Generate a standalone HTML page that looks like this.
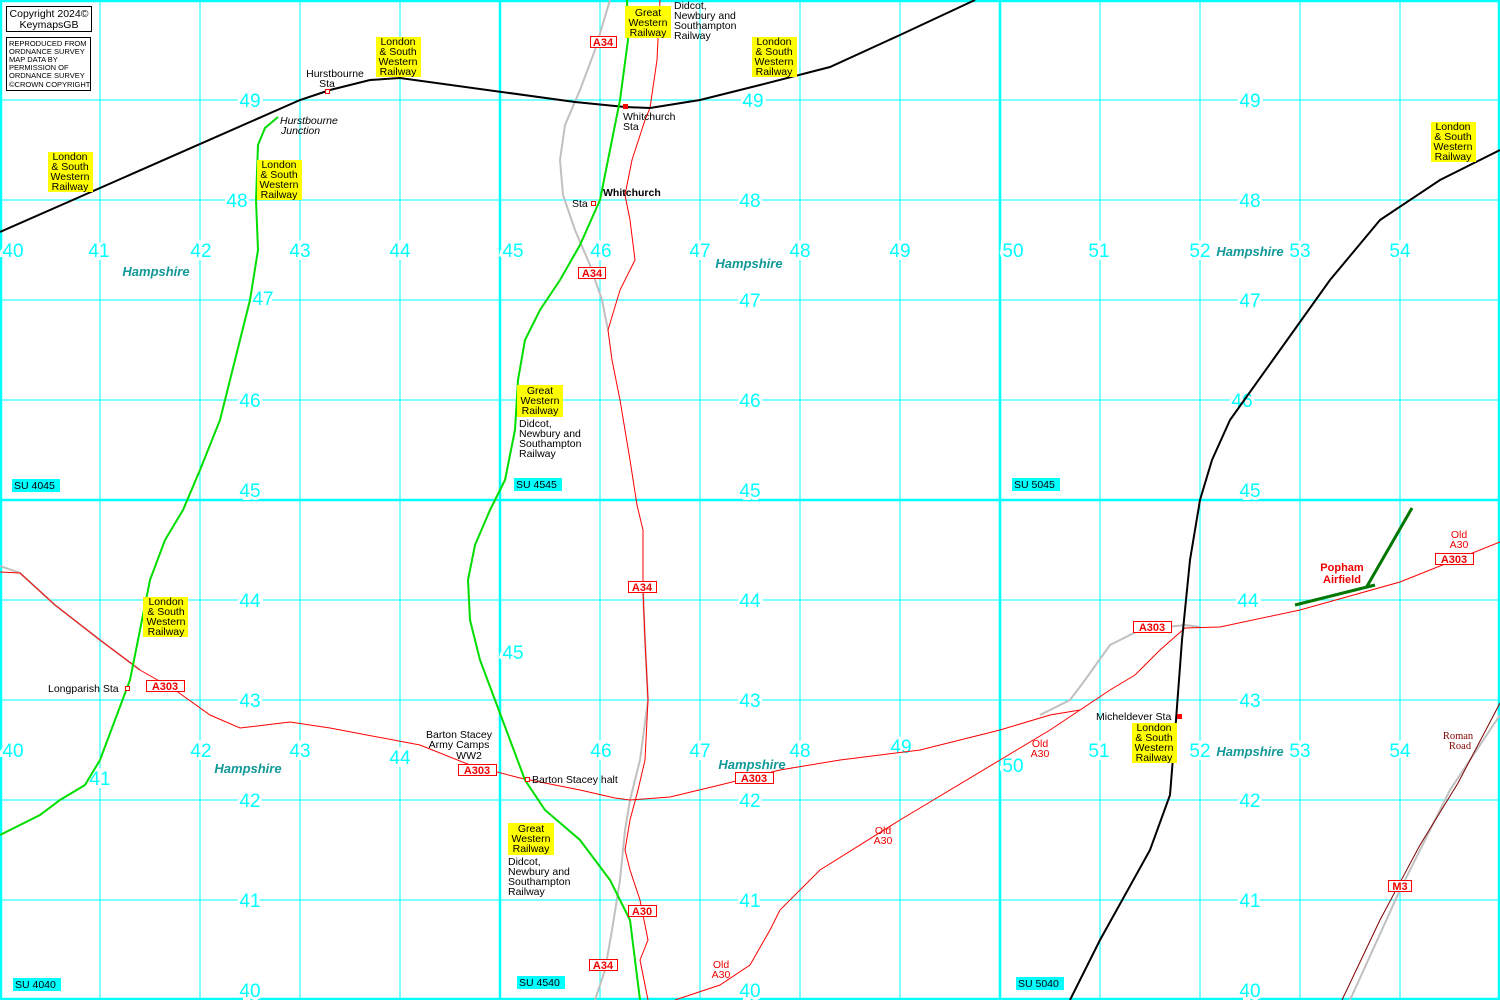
<!DOCTYPE html>
<html><head><meta charset="utf-8"><style>
html,body{margin:0;padding:0;background:#fff;width:1500px;height:1000px;overflow:hidden}
svg{display:block}
.g{fill:#00ffff;font:19px "Liberation Sans",sans-serif;text-anchor:middle;stroke:#fff;stroke-width:6px;paint-order:stroke}
.y{font:10.5px "Liberation Sans",sans-serif;text-anchor:middle;fill:#000}
.t{font:10.5px "Liberation Sans",sans-serif;fill:#000}
.h{font:italic bold 13px "Liberation Sans",sans-serif;fill:#119999;text-anchor:middle}
.r{font:bold 11px "Liberation Sans",sans-serif;fill:#e00;text-anchor:middle}
.o{font:10.5px "Liberation Sans",sans-serif;fill:#e00;text-anchor:middle}
.su{font:10.5px "Liberation Sans",sans-serif;fill:#000}
</style></head><body>
<svg width="1500" height="1000" xmlns="http://www.w3.org/2000/svg">
<g stroke="#00ffff" stroke-width="1">
<path d="M100 0V1000M200 0V1000M300 0V1000M400 0V1000M600 0V1000M700 0V1000M800 0V1000M900 0V1000M1100 0V1000M1200 0V1000M1300 0V1000M1400 0V1000M0 100H1500M0 200H1500M0 300H1500M0 400H1500M0 600H1500M0 700H1500M0 800H1500M0 900H1500"/>
</g>
<g stroke="#00ffff" stroke-width="2.5">
<path d="M1 0V1000M500 0V1000M1000 0V1000M1499 0V1000M0 1H1500M0 500H1500M0 999H1500"/>
</g>
<!-- grid labels -->
<g class="g">
<text x="250" y="107">49</text><text x="753" y="107">49</text><text x="1250" y="107">49</text>
<text x="237" y="207">48</text><text x="750" y="207">48</text><text x="1250" y="207">48</text>
<text x="263" y="305">47</text><text x="750" y="307">47</text><text x="1250" y="307">47</text>
<text x="250" y="407">46</text><text x="750" y="407">46</text><text x="1242" y="407">46</text>
<text x="250" y="497">45</text><text x="750" y="497">45</text><text x="1250" y="497">45</text>
<text x="250" y="607">44</text><text x="750" y="607">44</text><text x="1248" y="607">44</text>
<text x="250" y="707">43</text><text x="750" y="707">43</text><text x="1250" y="707">43</text>
<text x="250" y="807">42</text><text x="750" y="807">42</text><text x="1250" y="807">42</text>
<text x="250" y="907">41</text><text x="750" y="907">41</text><text x="1250" y="907">41</text>
<text x="250" y="997">40</text><text x="750" y="997">40</text><text x="1250" y="997">40</text>
<text x="13" y="257">40</text><text x="99" y="257">41</text><text x="201" y="257">42</text><text x="300" y="257">43</text><text x="400" y="257">44</text><text x="513" y="257">45</text><text x="601" y="257">46</text><text x="700" y="257">47</text><text x="800" y="257">48</text><text x="900" y="257">49</text><text x="1013" y="257">50</text><text x="1099" y="257">51</text><text x="1200" y="257">52</text><text x="1300" y="257">53</text><text x="1400" y="257">54</text>
<text x="13" y="757">40</text><text x="100" y="785">41</text><text x="201" y="757">42</text><text x="300" y="757">43</text><text x="400" y="764">44</text><text x="513" y="659">45</text><text x="601" y="757">46</text><text x="700" y="757">47</text><text x="800" y="757">48</text><text x="901" y="753">49</text><text x="1013" y="772">50</text><text x="1099" y="757">51</text><text x="1200" y="757">52</text><text x="1300" y="757">53</text><text x="1400" y="757">54</text>
</g>
<!-- roads grey -->
<g fill="none" stroke="#c0c0c0" stroke-width="2">
<path d="M0 566L20 573L55 605L100 640L140 670"/>
<path d="M610 0L595 50L580 90L565 125L560 160L563 195L575 230L590 265L602 300L608 330"/>
<path d="M595 1000L605 970L612 930L620 880L625 830L630 800L640 760L648 700L645 640L643 590"/>
<path d="M1040 715L1070 700L1085 680L1110 645L1140 630L1185 625L1200 627"/>
<path d="M1350 1000L1400 890L1450 790L1500 715"/>
</g>
<!-- roads red -->
<g fill="none" stroke="#f00" stroke-width="1">
<path d="M660 0L657 60L650 108L645 120L632 160L625 195L630 220L635 260L620 290L608 330L612 360L620 400L630 460L637 505L643 530L643 590L645 640L648 700L645 760L638 790L630 820L625 850L630 870L640 900L648 940L640 960L648 1000"/>
<path d="M0 572L20 573L55 605L100 640L140 670L175 690L210 715L240 728L290 722L330 728L420 745L470 765L520 778L580 790L615 798L630 800L670 797L720 785L780 770L840 760L920 750L1000 730L1050 715L1080 710L1110 690L1135 675L1160 650L1185 628L1220 627L1300 610L1400 582L1500 542"/>
<path d="M675 1000L720 985L750 965L770 930L780 910L820 870L900 820L1000 760L1050 730L1080 710"/>
</g>
<path d="M1342 1000L1380 920L1420 845L1458 783L1500 703" fill="none" stroke="#800000" stroke-width="1"/>
<!-- railways -->
<g fill="none" stroke="#000" stroke-width="2">
<path d="M0 232L300 100L330 90L370 80L400 78L575 102L625 107L650 108L700 100L760 85L830 67L900 35L975 0"/>
<path d="M1070 1000L1100 940L1150 850L1170 795L1176 720L1182 640L1190 560L1200 500L1212 460L1230 420L1280 350L1330 280L1380 220L1440 180L1500 150"/>
</g>
<g fill="none" stroke="#00dd00" stroke-width="2">
<path d="M278 117L265 128L258 145L256 200L258 250L250 300L235 360L220 420L200 470L183 510L165 540L150 580L140 630L130 680L115 720L100 760L85 785L60 800L40 815L0 835"/>
<path d="M627 0L628 40L620 100L610 150L600 200L580 245L560 280L540 310L525 340L518 380L515 430L505 480L490 510L475 545L468 580L470 620L480 660L495 700L510 740L525 780L545 810L580 840L610 880L630 920L640 1000"/>
</g>
<g stroke="#007700" stroke-width="3" fill="none"><path d="M1295 605L1375 585M1366 588L1412 508"/></g>
<!-- stations -->
<g fill="#fff" stroke="#f00" stroke-width="1">
<rect x="325.5" y="89.5" width="4" height="4"/><rect x="591.5" y="201.5" width="4" height="4"/><rect x="125.5" y="686.5" width="4" height="4"/><rect x="525.5" y="777.5" width="4" height="4"/>
</g>
<rect x="623" y="104" width="5" height="5" fill="#f00"/><rect x="1177" y="714" width="5" height="5" fill="#f00"/>
<!-- copyright -->
<rect x="6.5" y="6.5" width="85" height="25" fill="#fff" stroke="#000"/>
<text x="49" y="17" class="y" font-size="10">Copyright 2024©</text>
<text x="49" y="28" class="y" font-size="10">KeymapsGB</text>
<rect x="6.5" y="37.5" width="84" height="53" fill="#fff" stroke="#000"/>
<g font-family="Liberation Sans,sans-serif" font-size="7.5" fill="#000">
<text x="9" y="46">REPRODUCED FROM</text><text x="9" y="54">ORDNANCE SURVEY</text><text x="9" y="62">MAP DATA BY</text><text x="9" y="70">PERMISSION OF</text><text x="9" y="78">ORDNANCE SURVEY</text><text x="9" y="87">©CROWN COPYRIGHT</text>
</g>
<!-- yellow labels -->
<g fill="#ffff00">
<rect x="376" y="37" width="45" height="40"/><rect x="752" y="37" width="45" height="40"/><rect x="48" y="152" width="45" height="40"/><rect x="257" y="160" width="45" height="40"/><rect x="1431" y="122" width="45" height="40"/><rect x="143" y="597" width="45" height="40"/><rect x="1132" y="723" width="45" height="40"/>
<rect x="625" y="6" width="46" height="32"/><rect x="517" y="385" width="46" height="32"/><rect x="508" y="823" width="46" height="32"/>
</g>
<g class="y">
<text x="398" y="45">London</text><text x="398" y="55">&amp; South</text><text x="398" y="65">Western</text><text x="398" y="75">Railway</text>
<text x="774" y="45">London</text><text x="774" y="55">&amp; South</text><text x="774" y="65">Western</text><text x="774" y="75">Railway</text>
<text x="70" y="160">London</text><text x="70" y="170">&amp; South</text><text x="70" y="180">Western</text><text x="70" y="190">Railway</text>
<text x="279" y="168">London</text><text x="279" y="178">&amp; South</text><text x="279" y="188">Western</text><text x="279" y="198">Railway</text>
<text x="1453" y="130">London</text><text x="1453" y="140">&amp; South</text><text x="1453" y="150">Western</text><text x="1453" y="160">Railway</text>
<text x="166" y="605">London</text><text x="166" y="615">&amp; South</text><text x="166" y="625">Western</text><text x="166" y="635">Railway</text>
<text x="1154" y="731">London</text><text x="1154" y="741">&amp; South</text><text x="1154" y="751">Western</text><text x="1154" y="761">Railway</text>
<text x="648" y="16">Great</text><text x="648" y="26">Western</text><text x="648" y="36">Railway</text>
<text x="540" y="394">Great</text><text x="540" y="404">Western</text><text x="540" y="414">Railway</text>
<text x="531" y="832">Great</text><text x="531" y="842">Western</text><text x="531" y="852">Railway</text>
<text x="335" y="77">Hurstbourne</text><text x="327" y="87">Sta</text>
<text x="459" y="738">Barton Stacey</text><text x="459" y="748">Army Camps</text><text x="469" y="759">WW2</text>
</g>
<g class="t">
<text x="674" y="9">Didcot,</text><text x="674" y="19">Newbury and</text><text x="674" y="29">Southampton</text><text x="674" y="39">Railway</text>
<text x="519" y="427">Didcot,</text><text x="519" y="437">Newbury and</text><text x="519" y="447">Southampton</text><text x="519" y="457">Railway</text>
<text x="508" y="865">Didcot,</text><text x="508" y="875">Newbury and</text><text x="508" y="885">Southampton</text><text x="508" y="895">Railway</text>
<text x="623" y="120">Whitchurch</text><text x="623" y="130">Sta</text>
<text x="572" y="207">Sta</text>
<text x="603" y="196" font-weight="bold">Whitchurch</text>
<text x="48" y="692">Longparish Sta</text>
<text x="532" y="783">Barton Stacey halt</text>
<text x="1096" y="720">Micheldever Sta</text>
<text x="280" y="124" font-style="italic">Hurstbourne</text><text x="281" y="134" font-style="italic">Junction</text>
</g>
<g class="h">
<text x="156" y="276">Hampshire</text><text x="749" y="268">Hampshire</text><text x="1250" y="256">Hampshire</text>
<text x="248" y="773">Hampshire</text><text x="752" y="769">Hampshire</text><text x="1250" y="756">Hampshire</text>
</g>
<!-- road shields -->
<g fill="#fff" stroke="#f00" stroke-width="1">
<rect x="590.5" y="36.5" width="26" height="11"/><rect x="578.5" y="267.5" width="27" height="11"/><rect x="628.5" y="581.5" width="28" height="11"/><rect x="628.5" y="905.5" width="28" height="11"/><rect x="589.5" y="959.5" width="28" height="11"/><rect x="1388.5" y="880.5" width="23" height="11"/>
<rect x="146.5" y="680.5" width="38" height="11"/><rect x="458.5" y="764.5" width="38" height="11"/><rect x="735.5" y="772.5" width="38" height="11"/><rect x="1133.5" y="621.5" width="38" height="11"/><rect x="1435.5" y="553.5" width="38" height="11"/>
</g>
<g class="r">
<text x="603" y="46">A34</text><text x="592" y="277">A34</text><text x="642" y="591">A34</text><text x="642" y="915">A30</text><text x="603" y="969">A34</text><text x="1400" y="890">M3</text>
<text x="165" y="690">A303</text><text x="477" y="774">A303</text><text x="754" y="782">A303</text><text x="1152" y="631">A303</text><text x="1454" y="563">A303</text>
<text x="1342" y="571">Popham</text><text x="1342" y="583">Airfield</text>
</g>
<g class="o">
<text x="1459" y="538">Old</text><text x="1459" y="548">A30</text>
<text x="1040" y="747">Old</text><text x="1040" y="757">A30</text>
<text x="883" y="834">Old</text><text x="883" y="844">A30</text>
<text x="721" y="968">Old</text><text x="721" y="978">A30</text>
</g>
<g font-family="Liberation Serif,serif" font-size="10.5" fill="#800000" text-anchor="middle"><text x="1458" y="739">Roman</text><text x="1460" y="749">Road</text></g>
<!-- SU labels -->
<g fill="#00ffff"><rect x="12" y="479" width="48" height="13"/><rect x="514" y="478" width="48" height="13"/><rect x="1012" y="478" width="48" height="13"/><rect x="13" y="978" width="48" height="13"/><rect x="517" y="976" width="48" height="13"/><rect x="1016" y="977" width="48" height="13"/></g>
<g class="su">
<text x="14" y="489">SU 4045</text><text x="516" y="488">SU 4545</text><text x="1014" y="488">SU 5045</text><text x="15" y="988">SU 4040</text><text x="519" y="986">SU 4540</text><text x="1018" y="987">SU 5040</text>
</g>
</svg>
</body></html>
